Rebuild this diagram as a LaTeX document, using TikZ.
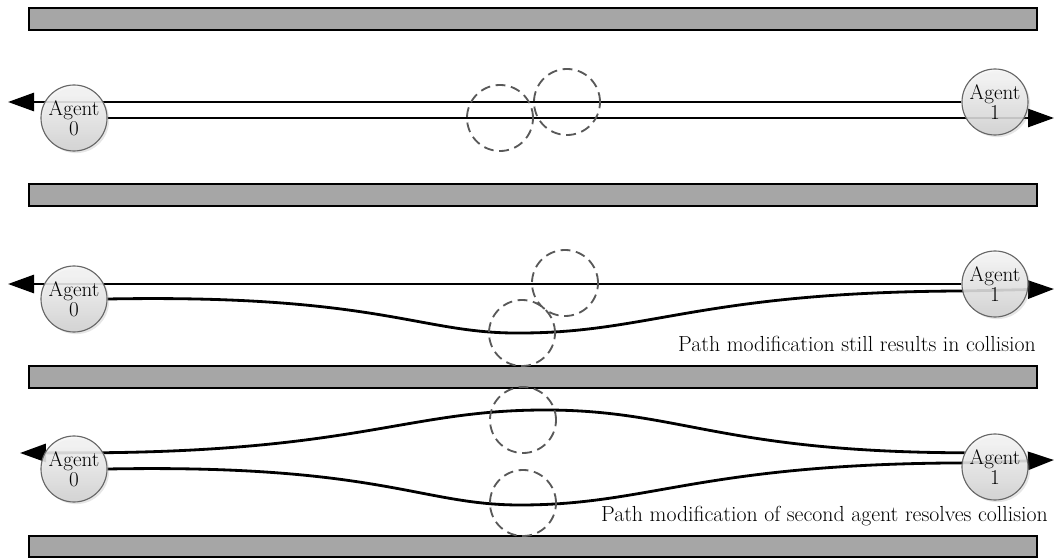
\documentclass[tikz,border=0pt]{standalone}
\usepackage{tikz}
\usetikzlibrary{positioning,arrows.meta,shadows,backgrounds}

\begin{document}
\begin{tikzpicture}[
  x=0.025cm, y=-0.025cm,
  wall/.style={draw=black, line width=1pt, fill=black!35},
  agent/.style={circle, draw=black!60, line width=0.8pt, top color=black!3, bottom color=black!18, fill opacity=0.88, text opacity=1, minimum size=1.65cm, inner sep=0pt, align=center, font=\fontsize{15}{14.5}\selectfont, drop shadow={shadow xshift=1.5pt, shadow yshift=-1.5pt, opacity=0.2}},
  zone/.style={circle, draw=black!65, line width=1.3pt, dash pattern=on 7pt off 4pt, minimum size=1.65cm, inner sep=0pt},
  route/.style={line width=2pt, -{Triangle[length=0.65cm, width=0.45cm]}},
  note/.style={anchor=base east, inner sep=0pt, font=\fontsize{15.5}{17}\selectfont}
]
\useasboundingbox (0,0) rectangle (1055,558);

\node[agent] (a0p1) at (74,118) {Agent\\0};
\node[agent] (a1p1) at (995,102) {Agent\\1};
\node[zone] (z0p1) at (500,118) {};
\node[zone] (z1p1) at (567,102) {};
\coordinate (l1) at (8,102);
\coordinate (r1) at (1054,118);

\node[agent] (a0p2) at (74,299) {Agent\\0};
\node[agent] (a1p2) at (995,284) {Agent\\1};
\node[zone] (z0p2) at (522,333) {};
\node[zone] (z1p2) at (565,283) {};
\coordinate (l2) at (8,284);
\coordinate (r2) at (1054,289);
\node[note] (n2) at (1036,351) {Path modification still results in collision};

\node[agent] (a0p3) at (74,469) {Agent\\0};
\node[agent] (a1p3) at (995,467) {Agent\\1};
\node[zone] (z0p3) at (523,503) {};
\node[zone] (z1p3) at (523,420) {};
\coordinate (l3) at (20,453);
\coordinate (r3) at (1054,460);
\node[note] (n3) at (1048,521) {Path modification of second agent resolves collision};

\begin{scope}[on background layer]
\foreach \top/\bot in {8/30, 184/206, 366/388, 536/557}
  \draw[wall] (29,\top) rectangle (1037,\bot);

\draw[route] (a1p1.west) -- (l1);
\draw[route] (a0p1.east) -- (r1);

\draw[route] (a1p2.west) -- (l2);
\draw[route] (a0p2.east) .. controls (380,294) and (420,334) .. (520,333)
  .. controls (650,333) and (700,292) .. (a1p2.192) -- (r2);

\draw[route] (a1p3.155) .. controls (720,452) and (680,410) .. (545,410)
  .. controls (410,410) and (360,450) .. (a0p3.29) -- (l3);
\draw[route] (a0p3.east) .. controls (380,464) and (420,505) .. (520,505)
  .. controls (650,505) and (700,464) .. (a1p3.173) -- (r3);
\end{scope}
\end{tikzpicture}
\end{document}
